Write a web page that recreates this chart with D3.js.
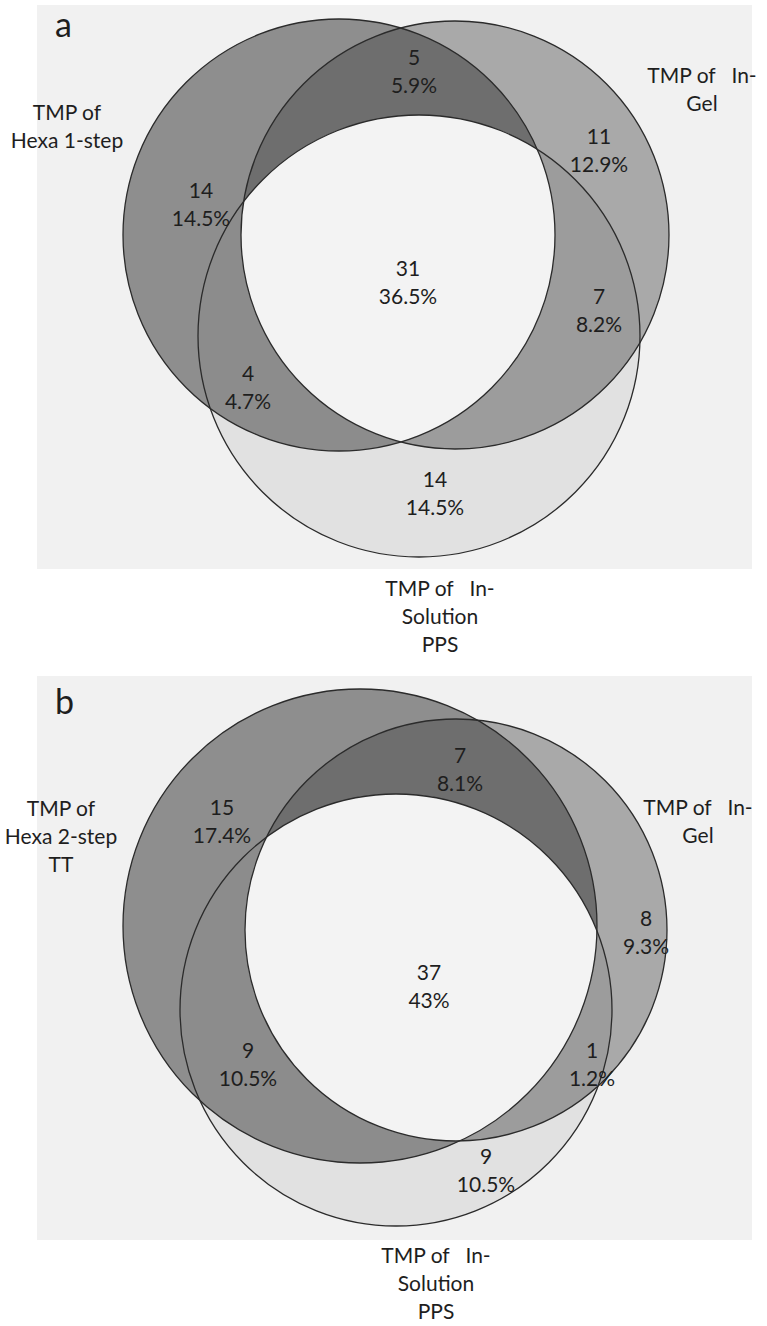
<!DOCTYPE html>
<html>
<head>
<meta charset="utf-8">
<script src="https://cdn.jsdelivr.net/npm/d3@7/dist/d3.min.js"></script>
<style>
  body { margin: 0; background: #fff; }
  text { font-family: Lato, "Open Sans", sans-serif; fill: #1e1e1e; }
</style>
</head>
<body>
<div id="chart"></div>
<script>
// DATA
var regionKeys = ["A", "B", "C", "AB", "AC", "BC", "ABC"];

var countsA = [14, 11, 14, 5, 4, 7, 31];
var percentsA = ["14.5%", "12.9%", "14.5%", "5.9%", "4.7%", "8.2%", "36.5%"];
var setLabelsA = [["TMP of", "Hexa 1-step"], ["TMP of\u00a0\u00a0 In-", "Gel"], ["TMP of\u00a0\u00a0 In-", "Solution", "PPS"]];

var countsB = [15, 8, 9, 7, 9, 1, 37];
var percentsB = ["17.4%", "9.3%", "10.5%", "8.1%", "10.5%", "1.2%", "43%"];
var setLabelsB = [["TMP of", "Hexa 2-step", "TT"], ["TMP of\u00a0\u00a0 In-", "Gel"], ["TMP of\u00a0\u00a0 In-", "Solution", "PPS"]];

// LAYOUT (pixels inside a panel, panel top = 0)
var W = 767, H = 1326;
var panelW = 715, panelH = 564;

var layouts = [
    {
        letter: "a", top: 5,
        circles: [[302, 230, 216], [418, 230, 214], [382, 331, 221]],
        regionPos: [[164, 185], [562, 131], [398, 474], [377, 52], [211, 368], [562, 291], [371, 263]],
        setPos: [[30, 107], [665, 70], [403, 583]]
    },
    {
        letter: "b", top: 676,
        circles: [[323, 250, 237], [419, 254, 211], [359, 334, 216]],
        regionPos: [[185, 131], [609, 242], [449, 480], [423, 79], [211, 374], [555, 374], [392, 296]],
        setPos: [[24, 132], [661, 131], [399, 579]]
    }
];

var colors = {
    bg: "#f1f1f1",
    A: "#8e8e8e", B: "#a9a9a9", C: "#e1e1e1",
    AB: "#6e6e6e", AC: "#8c8c8c", BC: "#9c9c9c", ABC: "#f3f3f3"
};

var svg = d3.select("#chart").append("svg")
    .attr("width", W)
    .attr("height", H);

var defs = svg.append("defs");

function drawPanel(layout, counts, percents, setLabels, idx) {
    var x = d3.scaleLinear().domain([0, panelW]).range([37, 37 + panelW]);
    var y = d3.scaleLinear().domain([0, panelH]).range([layout.top, layout.top + panelH]);
    var r = d3.scaleLinear().domain([0, panelW]).range([0, panelW]);

    var g = svg.append("g");

    g.append("rect")
        .attr("x", x(0)).attr("y", y(0))
        .attr("width", x(panelW) - x(0)).attr("height", y(panelH) - y(0))
        .attr("fill", colors.bg);

    var c = layout.circles;
    var id = function (k) { return "clip" + idx + k; };

    function circ(sel, ci) {
        return sel.append("circle")
            .attr("cx", x(c[ci][0]))
            .attr("cy", y(c[ci][1]))
            .attr("r", r(c[ci][2]));
    }

    // clip paths
    ["A", "B", "C"].forEach(function (k, i) {
        circ(defs.append("clipPath").attr("id", id(k)), i);
    });
    circ(defs.append("clipPath").attr("id", id("AB")), 1)
        .attr("clip-path", "url(#" + id("A") + ")");

    // fills, from single sets to the triple overlap
    circ(g, 2).attr("fill", colors.C);
    circ(g, 1).attr("fill", colors.B);
    circ(g, 0).attr("fill", colors.A);
    circ(g, 1).attr("fill", colors.AB).attr("clip-path", "url(#" + id("A") + ")");
    circ(g, 2).attr("fill", colors.AC).attr("clip-path", "url(#" + id("A") + ")");
    circ(g, 2).attr("fill", colors.BC).attr("clip-path", "url(#" + id("B") + ")");
    circ(g, 2).attr("fill", colors.ABC).attr("clip-path", "url(#" + id("AB") + ")");

    // outlines
    [0, 1, 2].forEach(function (i) {
        circ(g, i).attr("fill", "none")
            .attr("stroke", "#2b2b2b")
            .attr("stroke-width", 1.3);
    });

    // region labels
    regionKeys.forEach(function (k, i) {
        var p = layout.regionPos[i];
        var t = g.append("text")
            .attr("text-anchor", "middle")
            .attr("font-size", 21);
        t.append("tspan").attr("x", x(p[0])).attr("y", y(p[1]) + 7.5).text(counts[i]);
        t.append("tspan").attr("x", x(p[0])).attr("y", y(p[1]) + 35.5).text(percents[i]);
    });

    // set labels
    setLabels.forEach(function (lines, i) {
        var p = layout.setPos[i];
        var t = g.append("text")
            .attr("text-anchor", "middle")
            .attr("font-size", 21)
            .style("white-space", "pre");
        lines.forEach(function (s, j) {
            t.append("tspan").attr("x", x(p[0])).attr("y", y(p[1]) + 7.5 + j * 28).text(s);
        });
    });

    // panel letter
    g.append("text")
        .attr("x", x(18)).attr("y", y(layout.letter == "a" ? 32 : 38))
        .attr("font-size", 34)
        .text(layout.letter);
}

drawPanel(layouts[0], countsA, percentsA, setLabelsA, 0);
drawPanel(layouts[1], countsB, percentsB, setLabelsB, 1);
</script>
</body>
</html>
